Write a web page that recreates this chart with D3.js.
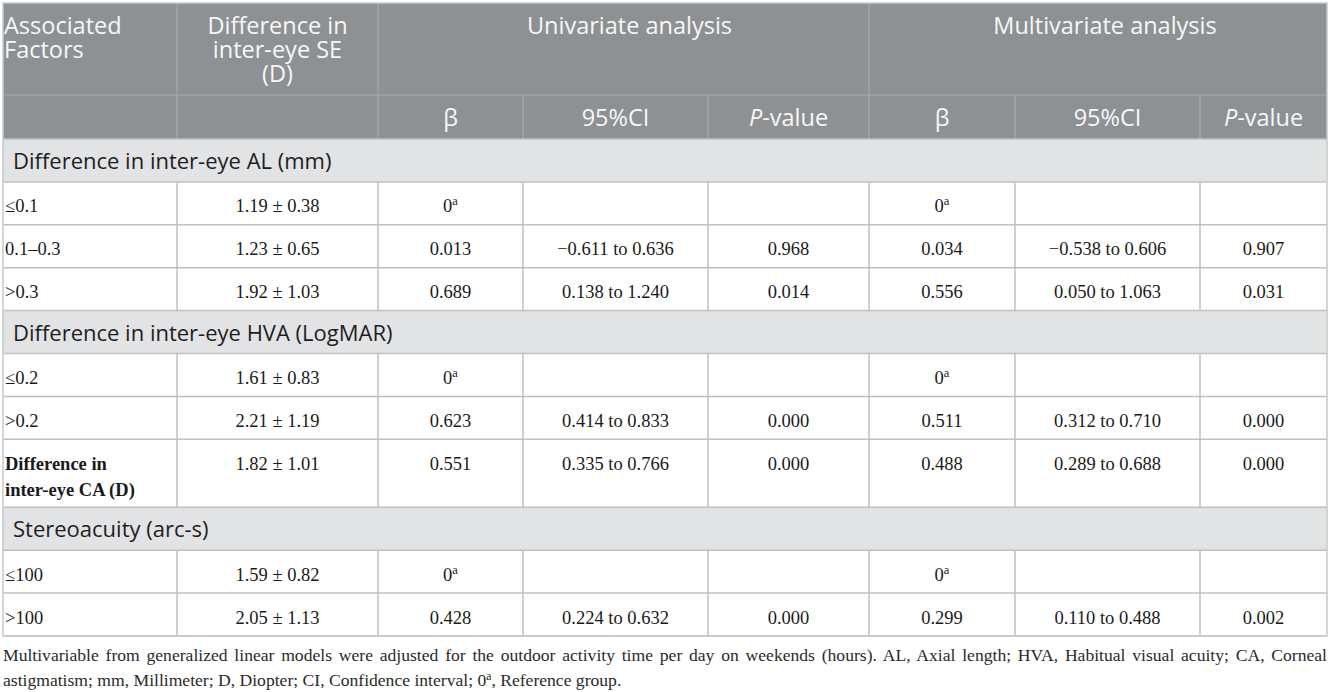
<!DOCTYPE html>
<html>
<head>
<meta charset="utf-8">
<script src="https://cdn.jsdelivr.net/npm/d3@7"></script>
<style>
	html, body { margin: 0; padding: 0; background: #fff; }
	svg { display: block; }
</style>
</head>
<body>
<div id="chart"></div>
<script>

// Table contents:
var headFactor = ['Associated', 'Factors'],
	headSE = ['Difference in', 'inter-eye SE', '(D)'],
	analysisGroups = ['Univariate analysis', 'Multivariate analysis'],
	statHeads = ['β', '95%CI', 'P-value'];

var factorLabels = [
	'Difference in inter-eye AL (mm)', '≤0.1', '0.1–0.3', '>0.3',
	'Difference in inter-eye HVA (LogMAR)', '≤0.2', '>0.2', 'Difference in|inter-eye CA (D)',
	'Stereoacuity (arc-s)', '≤100', '>100'
];
var isSection = [true, false, false, false, true, false, false, false, true, false, false],
	isBold = [false, false, false, false, false, false, false, true, false, false, false];

var seMean = [null, 1.19, 1.23, 1.92, null, 1.61, 2.21, 1.82, null, 1.59, 2.05],
	seSD = [null, 0.38, 0.65, 1.03, null, 0.83, 1.19, 1.01, null, 0.82, 1.13];

var uniBeta = [null, 0, 0.013, 0.689, null, 0, 0.623, 0.551, null, 0, 0.428],
	uniLo = [null, null, -0.611, 0.138, null, null, 0.414, 0.335, null, null, 0.224],
	uniHi = [null, null, 0.636, 1.240, null, null, 0.833, 0.766, null, null, 0.632],
	uniP = [null, null, 0.968, 0.014, null, null, 0.000, 0.000, null, null, 0.000];

var multiBeta = [null, 0, 0.034, 0.556, null, 0, 0.511, 0.488, null, 0, 0.299],
	multiLo = [null, null, -0.538, 0.050, null, null, 0.312, 0.289, null, null, 0.110],
	multiHi = [null, null, 0.606, 1.063, null, null, 0.710, 0.688, null, null, 0.488],
	multiP = [null, null, 0.907, 0.031, null, null, 0.000, 0.000, null, null, 0.002];

var footnote = [
	'Multivariable from generalized linear models were adjusted for the outdoor activity time per day on weekends (hours). AL, Axial length; HVA, Habitual visual acuity; CA, Corneal',
	'astigmatism; mm, Millimeter; D, Diopter; CI, Confidence interval; 0|a|, Reference group.'
];

// Layout:
var width = 1333,
	height = 692,
	colEdges = [3, 177, 378, 523, 708, 869, 1015, 1200, 1327],
	tableTop = 3,
	head1H = 92,
	head2H = 44,
	rowH = 42.9,
	tallH = 68;

var sansFont = "'Open Sans', sans-serif",
	serifFont = "'Liberation Serif', 'Times New Roman', serif";

var f2 = d3.format('.2f'),
	f3 = d3.format('.3f');

var x = d3.scaleOrdinal().domain(d3.range(colEdges.length)).range(colEdges);
var colMid = function(i) { return (x(i) + x(i + 1)) / 2; };

var svg = d3.select('#chart').append('svg')
	.attr('width', width)
	.attr('height', height);

// Header block:
var head = svg.append('g').attr('class', 'head');

head.append('rect')
	.attr('x', x(0))
	.attr('y', tableTop)
	.attr('width', x(8) - x(0))
	.attr('height', head1H + head2H)
	.attr('fill', '#8e9194');

var headLine = function(x1, y1, x2, y2) {
	head.append('line')
		.attr('x1', x1).attr('y1', y1).attr('x2', x2).attr('y2', y2)
		.attr('stroke', '#a7aaad')
		.attr('stroke-width', 1.2);
};

headLine(x(0), tableTop + head1H, x(8), tableTop + head1H);
[1, 2].forEach(function(i) { headLine(x(i), tableTop, x(i), tableTop + head1H + head2H); });
d3.range(3, 8).forEach(function(i) {
	headLine(x(i), tableTop + head1H, x(i), tableTop + head1H + head2H);
});
headLine(x(5), tableTop, x(5), tableTop + head1H);

var headText = function(lines, xx, anchor) {
	var t = head.append('text')
		.attr('x', xx)
		.attr('y', tableTop + 31)
		.attr('text-anchor', anchor)
		.attr('font-family', sansFont)
		.attr('font-size', 23.5)
		.attr('fill', '#f7f7f7');
	t.selectAll('tspan').data(lines).enter().append('tspan')
		.attr('x', xx)
		.attr('dy', function(d, i) { return i ? 24 : 0; })
		.text(function(d) { return d; });
};

headText(headFactor, x(0) + 1, 'start');
headText(headSE, colMid(1), 'middle');
headText([analysisGroups[0]], (x(2) + x(5)) / 2 + 6, 'middle');
headText([analysisGroups[1]], (x(5) + x(8)) / 2 + 7, 'middle');

d3.range(6).forEach(function(k) {
	var label = statHeads[k % 3],
		t = head.append('text')
			.attr('x', colMid(2 + k))
			.attr('y', tableTop + head1H + 31)
			.attr('text-anchor', 'middle')
			.attr('font-family', sansFont)
			.attr('font-size', 23.5)
			.attr('fill', '#f7f7f7');
	if (label.indexOf('P-') === 0) {
		t.append('tspan').attr('font-style', 'italic').text('P');
		t.append('tspan').text(label.slice(1));
	} else {
		t.text(label);
	}
});

// Body rows:
var body = svg.append('g').attr('class', 'body');

var y0 = tableTop + head1H + head2H;
var rowY = [], rowHt = [];
factorLabels.forEach(function(d, i) {
	rowY.push(y0);
	var h = d.indexOf('|') >= 0 ? tallH : rowH;
	rowHt.push(h);
	y0 += h;
});
var tableBottom = y0;

var cellValues = function(i) {
	var ref = uniLo[i] === null;
	return [
		f2(seMean[i]) + ' ± ' + f2(seSD[i]),
		ref ? 'REF' : f3(uniBeta[i]),
		ref ? '' : f3(uniLo[i]) + ' to ' + f3(uniHi[i]),
		ref ? '' : f3(uniP[i]),
		ref ? 'REF' : f3(multiBeta[i]),
		ref ? '' : f3(multiLo[i]) + ' to ' + f3(multiHi[i]),
		ref ? '' : f3(multiP[i])
	];
};

factorLabels.forEach(function(label, i) {
	var g = body.append('g').attr('transform', 'translate(0,' + rowY[i] + ')');

	if (isSection[i]) {
		g.append('rect')
			.attr('x', x(0)).attr('y', 0)
			.attr('width', x(8) - x(0)).attr('height', rowHt[i])
			.attr('fill', '#e2e3e5');
		g.append('text')
			.attr('x', x(0) + 10)
			.attr('y', 30)
			.attr('font-family', sansFont)
			.attr('font-size', 22)
			.attr('fill', '#1e1e1e')
			.text(label);
		return;
	}

	// Label column:
	var lt = g.append('text')
		.attr('x', x(0) + 2)
		.attr('y', 30.5)
		.attr('font-family', serifFont)
		.attr('font-size', 18.5)
		.attr('font-weight', isBold[i] ? 'bold' : 'normal')
		.attr('fill', '#1a1a1a');
	lt.selectAll('tspan').data(label.split('|')).enter().append('tspan')
		.attr('x', x(0) + 2)
		.attr('dy', function(d, k) { return k ? 26 : 0; })
		.text(function(d) { return d; });

	cellValues(i).forEach(function(v, k) {
		var t = g.append('text')
			.attr('x', colMid(1 + k))
			.attr('y', 30.5)
			.attr('text-anchor', 'middle')
			.attr('font-family', serifFont)
			.attr('font-size', 18.5)
			.attr('fill', '#1a1a1a');
		if (v === 'REF') {
			t.append('tspan').text('0');
			t.append('tspan').attr('font-size', 12.5).attr('dy', -7).text('a');
		} else {
			t.text(v);
		}
	});
});

// Grid lines:
var grid = svg.append('g').attr('class', 'grid')
	.attr('stroke', '#c0c0c0')
	.attr('stroke-width', 1.5);

rowY.concat([tableBottom]).forEach(function(yy) {
	grid.append('line')
		.attr('x1', x(0)).attr('x2', x(8))
		.attr('y1', yy).attr('y2', yy);
});

factorLabels.forEach(function(d, i) {
	if (isSection[i]) return;
	d3.range(1, 8).forEach(function(c) {
		grid.append('line')
			.attr('x1', x(c)).attr('x2', x(c))
			.attr('y1', rowY[i]).attr('y2', rowY[i] + rowHt[i]);
	});
});

// Outer border:
svg.append('rect')
	.attr('x', x(0)).attr('y', tableTop)
	.attr('width', x(8) - x(0))
	.attr('height', tableBottom - tableTop)
	.attr('fill', 'none')
	.attr('stroke', '#c4cbc8')
	.attr('stroke-width', 1.5);

// Footnote:
var note = svg.append('g').attr('class', 'note');

footnote.forEach(function(line, i) {
	var t = note.append('text')
		.attr('x', x(0))
		.attr('y', tableBottom + 25 + i * 25)
		.attr('font-family', serifFont)
		.attr('font-size', 17.6)
		.attr('fill', '#2a2a2a');
	var parts = line.split('|');
	parts.forEach(function(p, k) {
		if (k === 1) {
			t.append('tspan').attr('font-size', 11.5).attr('dy', -6).text(p);
		} else {
			t.append('tspan').attr('dy', k === 2 ? 6 : 0).text(p);
		}
	});
	if (i === 0) {
		// justify the first line by widening word gaps:
		var natural = t.node().getComputedTextLength(),
			gaps = line.split(' ').length - 1,
			extra = (x(8) - x(0) - natural) / gaps;
		t.attr('word-spacing', extra);
	}
});

</script>
</body>
</html>
